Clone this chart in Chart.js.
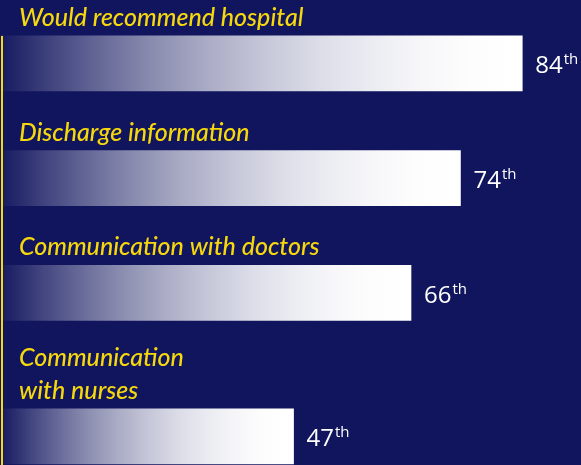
<!DOCTYPE html>
<html>
<head>
<meta charset="utf-8">
<script src="https://cdn.jsdelivr.net/npm/chart.js@4/dist/chart.umd.min.js"></script>
<style>
  html, body { margin: 0; padding: 0; background: #11155d; }
  #wrap { width: 581px; height: 465px; position: relative; }
</style>
</head>
<body>
<div id="wrap"><canvas id="chart"></canvas></div>
<script>
// Data
const categories = ['Would recommend hospital', 'Discharge information', 'Communication with doctors', 'Communication\nwith nurses'];
const percentiles = [84, 74, 66, 47];
const suffixes = ['th', 'th', 'th', 'th'];

const COLORS = {
  bg: '#11155d',
  yellow: '#f6d80c',
  white: '#ffffff',
  barStart: [24, 28, 98]
};

// each block: one row per title line, two rows for the bar, one row of gap
const labelLines = categories.map(c => c.split('\n'));
const rows = [];
let row = 0;
labelLines.forEach(lines => {
  row += lines.length;
  rows.push(row + 1);
  row += 3;
});
const totalRows = row - 1;

const points = percentiles.map((v, i) => ({ x: v, y: rows[i] }));

// gradient navy -> white, eased towards the end of each bar
function barGradient(context) {
  const chart = context.chart;
  const area = chart.chartArea;
  if (!area || !context.raw) return COLORS.white;
  const x1 = chart.scales.x.getPixelForValue(context.raw.x);
  const g = chart.ctx.createLinearGradient(area.left, 0, x1, 0);
  const [r0, g0, b0] = COLORS.barStart;
  for (let k = 0; k <= 10; k++) {
    const t = k / 10;
    const m = 1 - (1 - t) * (1 - t);
    const r = Math.round(r0 + (255 - r0) * m);
    const gg = Math.round(g0 + (255 - g0) * m);
    const b = Math.round(b0 + (255 - b0) * m);
    g.addColorStop(t, `rgb(${r},${gg},${b})`);
  }
  return g;
}

const labelsPlugin = {
  id: 'labels',
  afterDatasetsDraw(chart) {
    const ctx = chart.ctx;
    const meta = chart.getDatasetMeta(0);
    ctx.save();
    // yellow rule on the left
    const firstTop = meta.data[0].y - meta.data[0].height / 2;
    ctx.fillStyle = COLORS.yellow;
    ctx.fillRect(1, firstTop, 2, chart.height - firstTop);

    meta.data.forEach((bar, i) => {
      const top = bar.y - bar.height / 2;
      // titles above each bar
      ctx.font = 'italic 500 25px Lato';
      ctx.fillStyle = COLORS.yellow;
      ctx.textBaseline = 'alphabetic';
      ctx.textAlign = 'left';
      const lines = labelLines[i];
      lines.forEach((line, j) => {
        const base = top - 10 - (lines.length - 1 - j) * 33;
        ctx.fillText(line, 19, base);
      });
      // value with superscript
      ctx.fillStyle = COLORS.white;
      ctx.font = '24px "Open Sans"';
      const vx = bar.x + 13;
      const vy = bar.y + 10;
      const txt = String(percentiles[i]);
      ctx.fillText(txt, vx, vy);
      const w = ctx.measureText(txt).width;
      ctx.font = '15px "Open Sans"';
      ctx.fillText(suffixes[i], vx + w + 1, vy - 9);
    });
    ctx.restore();
  }
};

new Chart(document.getElementById('chart'), {
  type: 'bar',
  data: {
    datasets: [{
      data: points,
      backgroundColor: barGradient,
      borderWidth: 0,
      barThickness: 55
    }]
  },
  options: {
    indexAxis: 'y',
    responsive: true,
    maintainAspectRatio: false,
    animation: false,
    layout: { padding: { left: 3, right: 0, top: 6, bottom: 0 } },
    plugins: { legend: { display: false }, tooltip: { enabled: false } },
    scales: {
      x: { type: 'linear', min: 0, max: 93.5, display: false },
      y: { type: 'linear', min: 0, max: totalRows, reverse: true, offset: false, display: false }
    }
  },
  plugins: [labelsPlugin]
});
</script>
</body>
</html>
